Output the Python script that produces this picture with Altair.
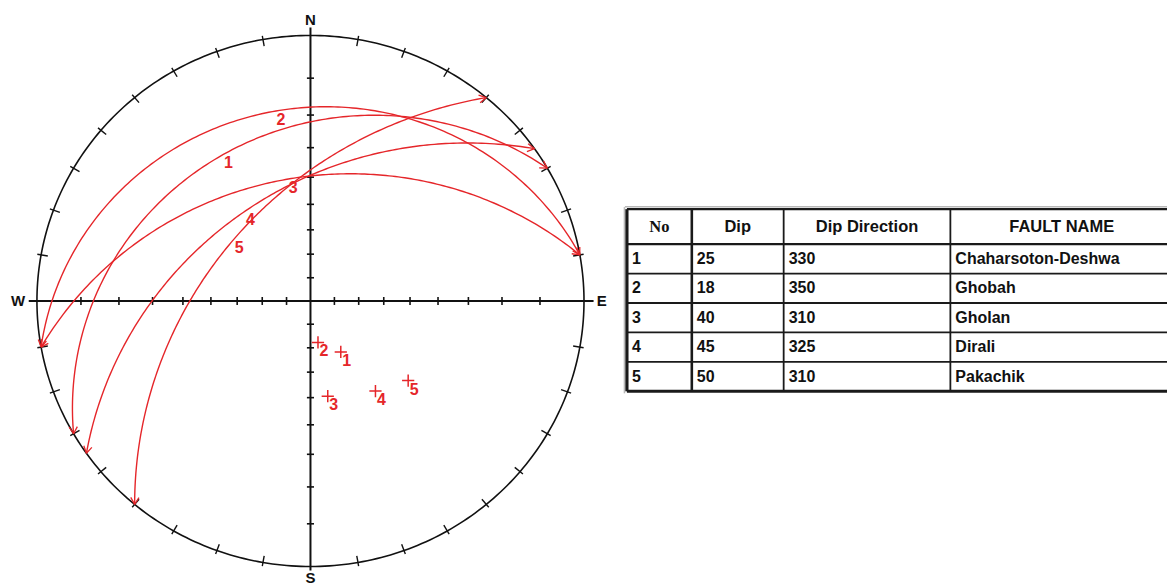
import numpy as np
import pandas as pd
import altair as alt

# ---- fault data -------------------------------------------------------
fault_no = [1, 2, 3, 4, 5]
# planes as drawn on the net (dip, dip direction)
net_dip = [25, 18, 40, 45, 50]
net_dip_dir = [330, 350, 350, 325, 310]

# table contents
table_header = ["No", "Dip", "Dip Direction", "FAULT NAME"]
table_no = ["1", "2", "3", "4", "5"]
table_dip = ["25", "18", "40", "45", "50"]
table_dip_dir = ["330", "350", "310", "325", "310"]
table_name = ["Chaharsoton-Deshwa", "Ghobah", "Gholan", "Dirali", "Pakachik"]

cardinals = ["N", "E", "S", "W"]
cardinal_az = [0, 90, 180, 270]
cardinal_r = [1.06, 1.065, 1.042, 1.069]

RED = "#e5262a"
INK = "#111111"
SANS = "Liberation Sans"


# ---- equal-angle (Wulff) projection helpers ---------------------------
def project_line(trend, plunge):
    """Lower-hemisphere equal-angle projection of a line."""
    t = np.radians(trend)
    r = np.tan(np.radians(90.0 - np.asarray(plunge, dtype=float)) / 2.0)
    return r * np.sin(t), r * np.cos(t)


def great_circle(dip, dip_dir, n=181):
    s = np.radians(dip_dir - 90.0)
    a = np.radians(dip_dir)
    d = np.radians(dip)
    t = np.radians(np.linspace(0.0, 180.0, n))
    north = np.cos(t) * np.cos(s) + np.sin(t) * np.cos(a) * np.cos(d)
    east = np.cos(t) * np.sin(s) + np.sin(t) * np.sin(a) * np.cos(d)
    down = np.sin(t) * np.sin(d)
    return east / (1.0 + down), north / (1.0 + down)


# primitive circle
az = np.linspace(0, 360, 361)
circle = pd.DataFrame({"x": np.sin(np.radians(az)), "y": np.cos(np.radians(az)), "i": np.arange(361)})

# 10-degree ticks on the primitive
tick_az = np.array([a for a in range(10, 360, 10) if a % 90 != 0])
ta = np.radians(tick_az)
prim_ticks = pd.DataFrame({
    "x": 0.975 * np.sin(ta), "y": 0.975 * np.cos(ta),
    "x2": 1.014 * np.sin(ta), "y2": 1.014 * np.cos(ta),
})

# N-S and W-E diameters
axes_df = pd.DataFrame({
    "x": [0.0, -1.03], "y": [1.03, 0.0], "x2": [0.0, 1.035], "y2": [-1.015, 0.0],
})

# 10-degree graduations along the diameters
grad = np.tan(np.radians(np.arange(10, 90, 10)) / 2.0)
hx = 0.013
hy = 0.015
ax_ticks = []
for g in grad:
    for sgn in (-1, 1):
        ax_ticks.append({"x": sgn * g, "y": -hy, "x2": sgn * g, "y2": hy})
        ax_ticks.append({"x": -hx, "y": sgn * g, "x2": hx, "y2": sgn * g})
ax_ticks = pd.DataFrame(ax_ticks)

# great circles, arrowheads at their ends, and the arc numbers
arcs, heads, arc_labels = [], [], []
for k, dp, dd in zip(fault_no, net_dip, net_dip_dir):
    gx, gy = great_circle(dp, dd)
    for j, (x, y) in enumerate(zip(gx, gy)):
        arcs.append({"fault": k, "j": j, "x": x, "y": y})
    for end, nxt in ((0, 5), (len(gx) - 1, len(gx) - 6)):
        ex, ey = gx[end], gy[end]
        ux, uy = gx[nxt] - ex, gy[nxt] - ey
        norm = np.hypot(ux, uy)
        ux, uy = ux / norm, uy / norm
        for ang in (np.radians(30), np.radians(-30)):
            rx = ux * np.cos(ang) - uy * np.sin(ang)
            ry = ux * np.sin(ang) + uy * np.cos(ang)
            heads.append({"x": ex, "y": ey, "x2": ex + 0.03 * rx, "y2": ey + 0.03 * ry})
    lx, ly = project_line(dd, dp)
    arc_labels.append({"x": float(lx), "y": float(ly), "t": str(k)})
arcs = pd.DataFrame(arcs)
heads = pd.DataFrame(heads)
arc_labels = pd.DataFrame(arc_labels)

# poles to the planes
px, py = project_line(np.array(net_dip_dir) + 180.0, 90.0 - np.array(net_dip))
poles = pd.DataFrame({"x": px, "y": py, "t": [str(k) for k in fault_no]})

# compass letters just outside the primitive
ca = np.radians(cardinal_az)
cr = np.array(cardinal_r)
card = pd.DataFrame({"x": cr * np.sin(ca), "y": cr * np.cos(ca), "t": cardinals})

# ---- stereonet panel ---------------------------------------------------
NET_W, NET_H = 620, 587
CX, CY, RX, RY = 311.0, 301.0, 274.0, 266.0
xs = alt.Scale(domain=[-CX / RX, (NET_W - CX) / RX], nice=False, zero=False)
ys = alt.Scale(domain=[-(NET_H - CY) / RY, CY / RY], nice=False, zero=False)
X = lambda f="x": alt.X(f"{f}:Q", scale=xs, axis=None)
Y = lambda f="y": alt.Y(f"{f}:Q", scale=ys, axis=None)

prim = alt.Chart(circle).mark_line(color=INK, strokeWidth=1.6).encode(
    x=X(), y=Y(), order="i:Q")
pticks = alt.Chart(prim_ticks).mark_rule(color=INK, strokeWidth=1.4).encode(
    x=X(), y=Y(), x2="x2:Q", y2="y2:Q")
diam = alt.Chart(axes_df).mark_rule(color=INK, strokeWidth=2).encode(
    x=X(), y=Y(), x2="x2:Q", y2="y2:Q")
aticks = alt.Chart(ax_ticks).mark_rule(color=INK, strokeWidth=1.6).encode(
    x=X(), y=Y(), x2="x2:Q", y2="y2:Q")
gc = alt.Chart(arcs).mark_line(color=RED, strokeWidth=1.4).encode(
    x=X(), y=Y(), detail="fault:N", order="j:Q")
gh = alt.Chart(heads).mark_rule(color=RED, strokeWidth=1.3).encode(
    x=X(), y=Y(), x2="x2:Q", y2="y2:Q")
gl = alt.Chart(arc_labels).mark_text(
    color=RED, font=SANS, fontWeight="bold", fontSize=16,
    dx=5, dy=9, baseline="middle", align="center").encode(x=X(), y=Y(), text="t:N")
pc = alt.Chart(poles).mark_point(
    shape="M-1,0L1,0M0,-1L0,1", size=150, filled=False, color=RED,
    strokeWidth=1.5, opacity=1).encode(x=X(), y=Y())
pl = alt.Chart(poles).mark_text(
    color=RED, font=SANS, fontWeight="bold", fontSize=16,
    dx=6, dy=9, baseline="middle", align="center").encode(x=X(), y=Y(), text="t:N")
cl = alt.Chart(card).mark_text(
    color=INK, font=SANS, fontWeight="bold", fontSize=15,
    baseline="middle", align="center").encode(x=X(), y=Y(), text="t:N")

net = alt.layer(prim, pticks, diam, aticks, gc, gh, gl, pc, pl, cl).properties(
    width=NET_W, height=NET_H)

# ---- table panel -------------------------------------------------------
TAB_X0, TAB_W, TAB_H = 620, 549, 587
col_edges = [628, 693, 785, 952, 1175]
row_edges = [209, 244, 273.5, 303, 332.5, 362, 391.5]

tx = alt.Scale(domain=[TAB_X0, TAB_X0 + TAB_W], nice=False, zero=False)
ty = alt.Scale(domain=[0, TAB_H], nice=False, zero=False, reverse=True)
TX = alt.X("x:Q", scale=tx, axis=None)
TY = alt.Y("y:Q", scale=ty, axis=None)

hlines = []
for i, yv in enumerate(row_edges):
    w = 3.0 if i == len(row_edges) - 1 else (2.2 if i <= 1 else 1.8)
    hlines.append({"x": col_edges[0], "x2": TAB_X0 + TAB_W, "y": yv, "y2": yv, "w": w})
vlines = []
for i, xv in enumerate(col_edges[:-1]):
    w = 3.2 if i == 0 else (2.6 if i == 1 else 1.8)
    vlines.append({"x": xv, "x2": xv, "y": row_edges[0], "y2": row_edges[-1], "w": w})
lines = pd.DataFrame(hlines + vlines)

# faint drop shadow along the top and left edges
shadow = pd.DataFrame([
    {"x": col_edges[0] - 2, "x2": TAB_X0 + TAB_W, "y": row_edges[0] - 2.5, "y2": row_edges[0] - 2.5},
    {"x": col_edges[0] - 2.5, "x2": col_edges[0] - 2.5, "y": row_edges[0] - 2, "y2": row_edges[-1] + 2},
])

grid = alt.Chart(lines).mark_rule(color="#1a1a1a").encode(
    x=TX, y=TY, x2="x2:Q", y2="y2:Q",
    strokeWidth=alt.StrokeWidth("w:Q", scale=None))
shade = alt.Chart(shadow).mark_rule(color="#b8b8b8", strokeWidth=1.5).encode(
    x=TX, y=TY, x2="x2:Q", y2="y2:Q")

head_y = (row_edges[0] + row_edges[1]) / 2
hdr = pd.DataFrame({
    "x": [(col_edges[i] + col_edges[i + 1]) / 2 for i in range(4)],
    "y": [head_y] * 4,
    "t": table_header,
})
hdr_serif = alt.Chart(hdr.iloc[:1]).mark_text(
    font="Liberation Serif", fontWeight="bold", fontSize=16.5, color=INK,
    align="center", baseline="middle").encode(x=TX, y=TY, text="t:N")
hdr_sans = alt.Chart(hdr.iloc[1:]).mark_text(
    font=SANS, fontWeight="bold", fontSize=16.5, color=INK,
    align="center", baseline="middle").encode(x=TX, y=TY, text="t:N")

cells = []
for r, row in enumerate(zip(table_no, table_dip, table_dip_dir, table_name)):
    yc = (row_edges[r + 1] + row_edges[r + 2]) / 2
    for c, val in enumerate(row):
        cells.append({"x": col_edges[c] + 5, "y": yc, "t": val})
cells = pd.DataFrame(cells)
body = alt.Chart(cells).mark_text(
    font=SANS, fontWeight="bold", fontSize=16, color=INK,
    align="left", baseline="middle").encode(x=TX, y=TY, text="t:N")

table = alt.layer(shade, grid, hdr_serif, hdr_sans, body).properties(
    width=TAB_W, height=TAB_H)

chart = alt.hconcat(net, table, spacing=0).properties(
    padding=0, background="white"
).configure_view(stroke=None)

chart.save("out.html", embed_options={"renderer": "svg", "actions": False})
